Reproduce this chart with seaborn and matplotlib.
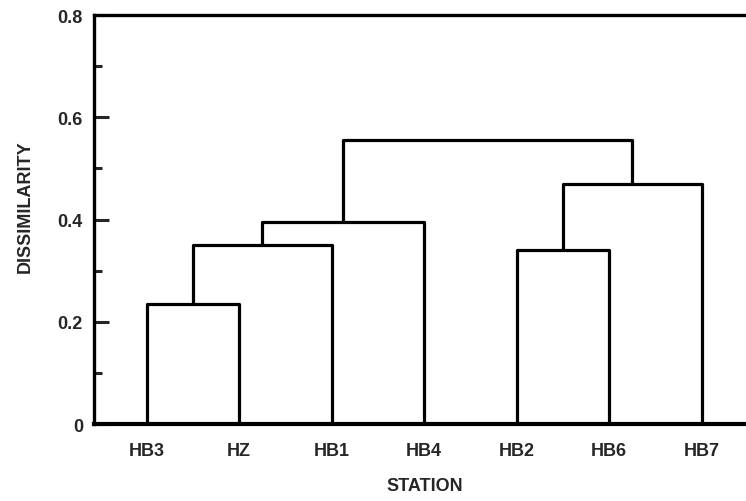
import pandas as pd
import numpy as np
import matplotlib
matplotlib.use('Agg')
import matplotlib.pyplot as plt
import seaborn as sns

# Dendrogram of stations
stations = ['HB3', 'HZ', 'HB1', 'HB4', 'HB2', 'HB6', 'HB7']
# each merge: left child, right child (leaf index or 7 + merge index), height
merge_left = [0, 7, 8, 4, 10, 9]
merge_right = [1, 2, 3, 5, 6, 11]
merge_height = [0.235, 0.35, 0.395, 0.34, 0.47, 0.555]

yticks = [0, 0.2, 0.4, 0.6, 0.8]
ytick_labels = ['0', '0.2', '0.4', '0.6', '0.8']

# build U-shaped links
n = len(stations)
node_x = list(range(n))
node_y = [0.0] * n
rows = []
for k, (a, b, h) in enumerate(zip(merge_left, merge_right, merge_height)):
    xs = [node_x[a], node_x[a], node_x[b], node_x[b]]
    ys = [node_y[a], h, h, node_y[b]]
    for i, (x, y) in enumerate(zip(xs, ys)):
        rows.append({'link': k, 'order': i, 'x': x, 'y': y})
    node_x.append((node_x[a] + node_x[b]) / 2)
    node_y.append(h)
df = pd.DataFrame(rows)

sns.set_style('white')
plt.rcParams['font.family'] = ['Liberation Sans', 'DejaVu Sans']
plt.rcParams['font.weight'] = 'bold'

fs = 13

fig = plt.figure(figsize=(7.46, 5.02), dpi=100)
ax = fig.add_axes([0.126, 0.153, 0.874, 0.815])

sns.lineplot(
    data=df, x='x', y='y', units='link', estimator=None, sort=False,
    color='black', linewidth=2.3, ax=ax
)

ax.set_xlim(-0.57, 6.48)
ax.set_ylim(0, 0.8)
ax.set_xticks(range(n))
ax.set_xticklabels(stations, fontsize=fs, fontweight='bold')
ax.set_yticks(yticks)
ax.set_yticklabels(ytick_labels, fontsize=fs, fontweight='bold')
ax.set_yticks(np.arange(0.1, 0.8, 0.2), minor=True)

ax.tick_params(axis='x', length=0, pad=13)
ax.tick_params(axis='y', which='major', direction='in', length=11, width=2.2, pad=8, left=True)
ax.tick_params(axis='y', which='minor', direction='in', length=6, width=2.2, left=True)

for side in ['left', 'bottom', 'top']:
    ax.spines[side].set_visible(True)
    ax.spines[side].set_color('black')
    ax.spines[side].set_linewidth(2.4)
ax.spines['bottom'].set_linewidth(3)
ax.spines['right'].set_visible(False)

ax.set_xlabel('STATION', fontsize=fs, fontweight='bold')
ax.set_ylabel('DISSIMILARITY', fontsize=fs, fontweight='bold')
ax.xaxis.set_label_coords(0.508, -0.13)
ax.yaxis.set_label_coords(-0.092, 0.533)

plt.savefig('out.png', dpi=100)
